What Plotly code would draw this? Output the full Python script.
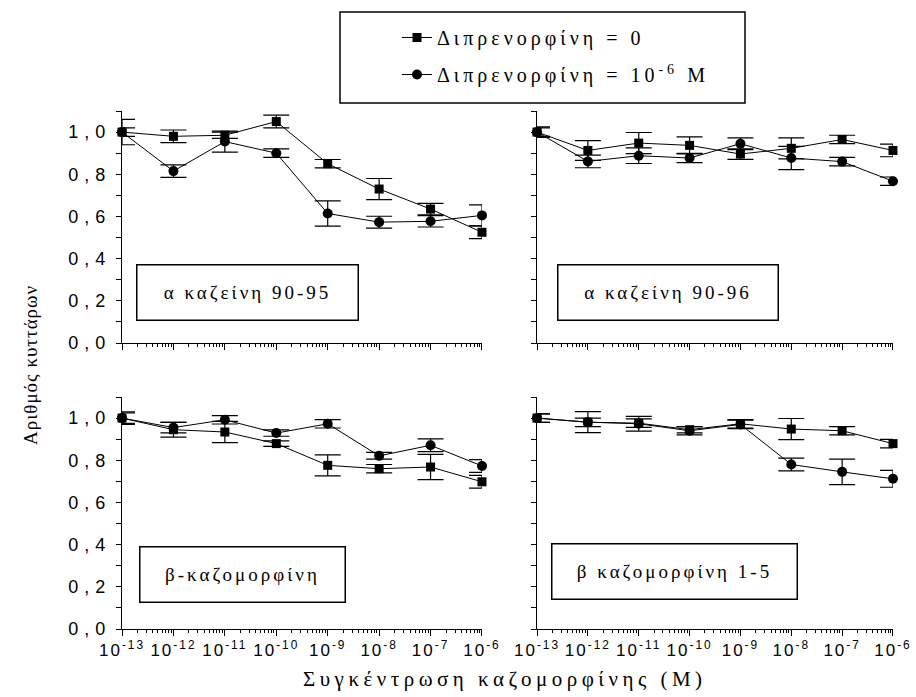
import plotly.graph_objects as go

# Concentration of casomorphin (M), one point per decade
conc = [1e-13, 1e-12, 1e-11, 1e-10, 1e-9, 1e-8, 1e-7, 1e-6]
x_tick_text = ["10<sup>-13</sup>", "10<sup>-12</sup>", "10<sup>-11</sup>", "10<sup>-10</sup>",
               "10<sup>-9</sup>", "10<sup>-8</sup>", "10<sup>-7</sup>", "10<sup>-6</sup>"]
y_tick_vals = [0.0, 0.2, 0.4, 0.6, 0.8, 1.0]
y_tick_text = ["0,0", "0,2", "0,4", "0,6", "0,8", "1,0"]

series_names = ["Διπρενορφίνη = 0", "Διπρενορφίνη = 10<sup>-6</sup> M"]
panel_titles = ["α καζείνη 90-95", "α καζείνη 90-96", "β-καζομορφίνη", "β καζομορφίνη 1-5"]
y_title = "Αριθμός κυττάρων"
x_title = "Συγκέντρωση καζομορφίνης (M)"

# α casein 90-95
a_ctrl = [1.00, 0.98, 0.985, 1.05, 0.85, 0.73, 0.635, 0.525]
a_ctrl_err = [0.02, 0.03, 0.015, 0.03, 0.02, 0.05, 0.027, 0.03]
a_dip = [1.00, 0.815, 0.955, 0.90, 0.614, 0.573, 0.577, 0.605]
a_dip_err = [0.06, 0.03, 0.05, 0.02, 0.06, 0.028, 0.027, 0.05]

# α casein 90-96
b_ctrl = [1.00, 0.913, 0.948, 0.937, 0.896, 0.923, 0.965, 0.913]
b_ctrl_err = [0.02, 0.047, 0.05, 0.04, 0.025, 0.05, 0.02, 0.03]
b_dip = [1.00, 0.861, 0.888, 0.877, 0.945, 0.877, 0.86, 0.767]
b_dip_err = [0.025, 0.03, 0.037, 0.022, 0.028, 0.055, 0.02, 0.02]

# β-casomorphin
c_ctrl = [1.00, 0.945, 0.934, 0.879, 0.776, 0.760, 0.768, 0.698]
c_ctrl_err = [0.03, 0.035, 0.05, 0.013, 0.05, 0.02, 0.06, 0.03]
c_dip = [1.00, 0.955, 0.992, 0.929, 0.973, 0.821, 0.871, 0.773]
c_dip_err = [0.025, 0.025, 0.02, 0.015, 0.02, 0.016, 0.03, 0.03]

# β-casomorphin 1-5
d_ctrl = [1.00, 0.98, 0.976, 0.945, 0.973, 0.948, 0.94, 0.879]
d_ctrl_err = [0.02, 0.02, 0.02, 0.015, 0.02, 0.05, 0.02, 0.02]
d_dip = [1.00, 0.981, 0.973, 0.94, 0.97, 0.78, 0.745, 0.712]
d_dip_err = [0.02, 0.05, 0.035, 0.02, 0.02, 0.03, 0.06, 0.04]

panels = [
    (a_ctrl, a_ctrl_err, a_dip, a_dip_err),
    (b_ctrl, b_ctrl_err, b_dip, b_dip_err),
    (c_ctrl, c_ctrl_err, c_dip, c_dip_err),
    (d_ctrl, d_ctrl_err, d_dip, d_dip_err),
]

W, H = 916, 697
SANS = "Liberation Sans, Arial, sans-serif"
SERIF = "Liberation Serif, Times New Roman, serif"


def spaced(text, px):
    """Wrap a label in a span with extra letter spacing."""
    return f'<span style="letter-spacing:{px}px">{text}</span>'


# pixel frames of the four panels: (left, right, top, bottom)
frames = [(122, 482, 111, 343), (537, 893, 111, 343),
          (122, 482, 397, 629), (537, 893, 397, 629)]

fig = go.Figure()

for i, (ctrl, ctrl_err, dip, dip_err) in enumerate(panels):
    n = i + 1
    xa = "x" if n == 1 else f"x{n}"
    ya = "y" if n == 1 else f"y{n}"
    for vals, errs, sym, size, name in [
        (ctrl, ctrl_err, "square", 9, series_names[0]),
        (dip, dip_err, "circle", 10, series_names[1]),
    ]:
        fig.add_trace(go.Scatter(
            x=conc, y=vals, xaxis=xa, yaxis=ya,
            mode="lines+markers", name=spaced(name, 4),
            legendgroup=name, showlegend=(n == 1),
            line=dict(color="black", width=1),
            marker=dict(symbol=sym, size=size, color="black"),
            error_y=dict(type="data", array=errs, visible=True,
                         color="black", thickness=1.2, width=13),
            cliponaxis=False,
        ))

layout = dict(
    template="none",
    width=W, height=H,
    margin=dict(l=0, r=0, t=0, b=0, autoexpand=False),
    paper_bgcolor="white", plot_bgcolor="white",
    showlegend=True,
    legend=dict(
        x=397 / W, y=1 - 18 / H, xanchor="left", yanchor="top",
        bgcolor="rgba(0,0,0,0)", borderwidth=0,
        font=dict(family=SERIF, size=20, color="black"),
        traceorder="grouped", tracegroupgap=8,
    ),
    shapes=[dict(type="rect", xref="paper", yref="paper",
                 x0=340 / W, x1=745 / W, y0=1 - 103 / H, y1=1 - 12 / H,
                 line=dict(color="black", width=1.5))],
    annotations=[],
)

for i, (l, r, t, b) in enumerate(frames):
    n = i + 1
    key = "" if n == 1 else str(n)
    bottom_row = n >= 3
    left_col = n in (1, 3)
    layout[f"xaxis{key}"] = dict(
        domain=[l / W, r / W], anchor=f"y{key}" if key else "y",
        type="log", range=[-13.0002, -5.9998], automargin=False,
        tickmode="array", tickvals=conc,
        ticktext=[spaced(t, 2) for t in x_tick_text],
        showticklabels=bottom_row,
        ticks="outside", ticklen=6, tickcolor="black", tickwidth=1,
        minor=dict(ticks="outside", ticklen=3, tickcolor="black", tickwidth=1,
                   dtick="D1", showgrid=False),
        showline=True, linecolor="black", linewidth=1,
        showgrid=False, zeroline=False,
        tickfont=dict(family=SANS, size=17, color="black"),
    )
    layout[f"yaxis{key}"] = dict(
        domain=[1 - b / H, 1 - t / H], anchor=f"x{key}" if key else "x",
        range=[0, 1.1], automargin=False,
        tickmode="array", tickvals=y_tick_vals,
        ticktext=[spaced(t, 6) for t in y_tick_text],
        showticklabels=left_col,
        ticks="outside", ticklen=5, tickcolor="black", tickwidth=1,
        minor=dict(ticks="outside", ticklen=5, tickcolor="black", tickwidth=1,
                   tickmode="linear", tick0=0, dtick=0.1, showgrid=False),
        showline=True, linecolor="black", linewidth=1,
        showgrid=False, zeroline=False,
        ticklabelstandoff=1,
        tickfont=dict(family=SANS, size=18, color="black"),
    )

# panel label boxes: (left, right, top, bottom) in pixels
label_boxes = [(136, 358, 264, 320), (557, 778, 264, 320),
               (139, 345, 546, 602), (551, 797, 543, 599)]
for text, (l, r, t, b) in zip(panel_titles, label_boxes):
    layout["annotations"].append(dict(
        text=spaced(text, 3), xref="paper", yref="paper",
        x=(l + r) / 2 / W, y=1 - (t + b) / 2 / H,
        xanchor="center", yanchor="middle", showarrow=False,
        width=r - l - 2, height=b - t - 2, borderpad=0,
        bordercolor="black", borderwidth=1.5, bgcolor="white",
        font=dict(family=SERIF, size=19, color="black"),
    ))

# axis titles
layout["annotations"].append(dict(
    text=spaced(y_title, 1), xref="paper", yref="paper",
    x=30 / W, y=1 - 365 / H, textangle=-90, showarrow=False,
    xanchor="center", yanchor="middle",
    font=dict(family=SERIF, size=19, color="black"),
))
layout["annotations"].append(dict(
    text=spaced(x_title, 4.5), xref="paper", yref="paper",
    x=505 / W, y=1 - 679 / H, showarrow=False,
    xanchor="center", yanchor="middle",
    font=dict(family=SERIF, size=21, color="black"),
))

fig.update_layout(**layout)
fig.write_html("out.html")
